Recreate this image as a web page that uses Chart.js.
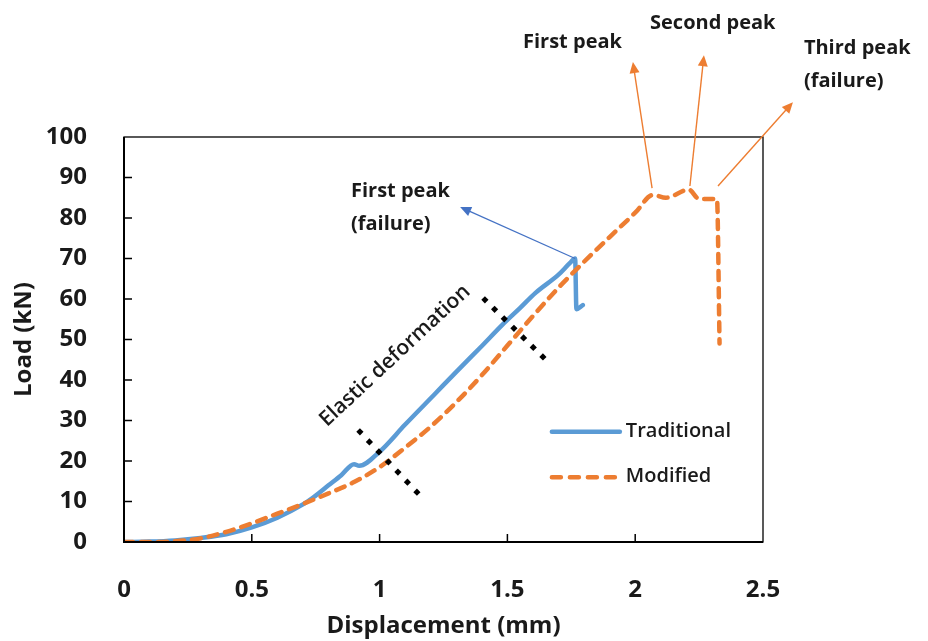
<!DOCTYPE html>
<html>
<head>
<meta charset="utf-8">
<title>Load vs displacement</title>
<script src="https://cdn.jsdelivr.net/npm/chart.js@4.4.1/dist/chart.umd.min.js"></script>
<style>
  body { margin: 0; background: #fff; }
  #wrap { width: 928px; height: 641px; }
</style>
</head>
<body>
<div id="wrap"><canvas id="loadChart" width="928" height="641"></canvas></div>
<script>
// displacement (mm) / load (kN) readings for each specimen
var tradX = [0, 0.1, 0.2, 0.3, 0.4, 0.5, 0.6, 0.7, 0.74, 0.8, 0.85, 0.9, 0.92, 1.0, 1.1, 1.22, 1.3, 1.4, 1.48, 1.55, 1.61, 1.7, 1.745, 1.765, 1.77, 1.795];
var tradY = [0, 0.1, 0.4, 1.0, 1.9, 3.6, 6.0, 9.3, 11.0, 14.0, 16.5, 19.2, 18.8, 22.3, 29.0, 36.8, 42.0, 48.4, 53.6, 57.8, 61.5, 66.0, 68.9, 70.0, 57.5, 58.5];

var modX = [0, 0.1, 0.2, 0.3, 0.4, 0.5, 0.6, 0.7, 0.8, 0.9, 1.0, 1.1, 1.2, 1.3, 1.4, 1.5, 1.6, 1.7, 1.8, 1.9, 2.0, 2.07, 2.12, 2.21, 2.25, 2.32, 2.33];
var modY = [0, 0, 0.2, 0.9, 2.5, 4.6, 7.0, 9.4, 12.0, 14.8, 18.5, 23.3, 28.5, 34.5, 41.2, 48.5, 55.8, 62.8, 69.2, 75.3, 81.3, 85.7, 85.0, 87.0, 84.7, 84.7, 49.0];

var xTicks = [0, 0.5, 1, 1.5, 2, 2.5];
var yTicks = [0, 10, 20, 30, 40, 50, 60, 70, 80, 90, 100];

var seriesNames = ['Traditional', 'Modified'];

var BLUE = '#5b9bd5';
var ORANGE = '#ed7d31';
var INK = '#1a1a1a';
var FONT = '"Open Sans", "Liberation Sans", sans-serif';

function toPoints(xs, ys) {
  return xs.map(function(x, i) { return { x: x, y: ys[i] }; });
}

// peak of the traditional curve, where its failure arrow starts
var tradPeak = tradY.indexOf(Math.max.apply(null, tradY));

function arrow(ctx, x0, y0, x1, y1, color, width) {
  var ang = Math.atan2(y1 - y0, x1 - x0);
  var len = 11, half = 5;
  ctx.save();
  ctx.strokeStyle = color;
  ctx.fillStyle = color;
  ctx.lineWidth = width;
  ctx.beginPath();
  ctx.moveTo(x0, y0);
  ctx.lineTo(x1 - Math.cos(ang) * len * 0.8, y1 - Math.sin(ang) * len * 0.8);
  ctx.stroke();
  ctx.beginPath();
  ctx.moveTo(x1, y1);
  ctx.lineTo(x1 - Math.cos(ang) * len + Math.sin(ang) * half, y1 - Math.sin(ang) * len - Math.cos(ang) * half);
  ctx.lineTo(x1 - Math.cos(ang) * len - Math.sin(ang) * half, y1 - Math.sin(ang) * len + Math.cos(ang) * half);
  ctx.closePath();
  ctx.fill();
  ctx.restore();
}

// row of small diamonds between two points
function dotted(ctx, x0, y0, x1, y1, count) {
  ctx.save();
  ctx.fillStyle = '#000';
  for (var i = 0; i < count; i++) {
    var t = i / (count - 1);
    var cx = x0 + (x1 - x0) * t, cy = y0 + (y1 - y0) * t;
    ctx.beginPath();
    ctx.moveTo(cx, cy - 3.6);
    ctx.lineTo(cx + 3.6, cy);
    ctx.lineTo(cx, cy + 3.6);
    ctx.lineTo(cx - 3.6, cy);
    ctx.closePath();
    ctx.fill();
  }
  ctx.restore();
}

function label(ctx, lines, x, y, font) {
  ctx.save();
  ctx.fillStyle = INK;
  ctx.font = font;
  ctx.textAlign = 'left';
  ctx.textBaseline = 'middle';
  lines.forEach(function(t, i) { ctx.fillText(t, x, y + i * 33); });
  ctx.restore();
}

var notesPlugin = {
  id: 'notes',
  afterDraw: function(chart) {
    var ctx = chart.ctx;
    var a = chart.chartArea;
    var xs = chart.scales.x, ys = chart.scales.y;
    var px = function(v) { return xs.getPixelForValue(v); };
    var py = function(v) { return ys.getPixelForValue(v); };

    // plot frame
    ctx.save();
    ctx.strokeStyle = '#000';
    ctx.lineWidth = 1.3;
    ctx.strokeRect(a.left, a.top, a.right - a.left, a.bottom - a.top);
    ctx.lineWidth = 2;
    ctx.beginPath();
    ctx.moveTo(a.left, a.top);
    ctx.lineTo(a.left, a.bottom);
    ctx.lineTo(a.right, a.bottom);
    ctx.stroke();

    // inward tick marks
    ctx.lineWidth = 1.5;
    ctx.beginPath();
    xTicks.slice(1, -1).forEach(function(v) {
      ctx.moveTo(px(v), a.bottom);
      ctx.lineTo(px(v), a.bottom - 8);
    });
    yTicks.slice(1, -1).forEach(function(v) {
      ctx.moveTo(a.left, py(v));
      ctx.lineTo(a.left + 8, py(v));
    });
    ctx.stroke();
    ctx.restore();

    // elastic region limits
    dotted(ctx, px(0.923), py(27.2), px(1.146), py(12.3), 7);
    dotted(ctx, px(1.412), py(59.8), px(1.639), py(45.7), 7);

    ctx.save();
    ctx.translate(px(1.06), py(46));
    ctx.rotate(-43 * Math.PI / 180);
    ctx.fillStyle = INK;
    ctx.font = '600 21px ' + FONT;
    ctx.textAlign = 'center';
    ctx.textBaseline = 'middle';
    ctx.fillText('Elastic deformation', 0, 0);
    ctx.restore();

    // failure / peak call-outs
    arrow(ctx, px(tradX[tradPeak]), py(tradY[tradPeak]), px(1.315), py(82.7), '#4472c4', 1.2);
    arrow(ctx, px(2.066), py(87.4), px(1.991), py(118.5), ORANGE, 1.4);
    arrow(ctx, px(2.214), py(87.9), px(2.269), py(120.2), ORANGE, 1.4);
    arrow(ctx, px(2.324), py(87.9), px(2.617), py(108.6), ORANGE, 1.4);

    var noteFont = 'bold 20px ' + FONT;
    label(ctx, ['First peak', '(failure)'], px(0.888), py(86.5), noteFont);
    label(ctx, ['First peak'], px(1.561), py(123.5), noteFont);
    label(ctx, ['Second peak'], px(2.058), py(128.1), noteFont);
    label(ctx, ['Third peak', '(failure)'], px(2.66), py(121.8), noteFont);

    // legend
    var lx0 = px(1.674), lx1 = px(1.94);
    ctx.save();
    ctx.lineWidth = 4.5;
    ctx.lineCap = 'round';
    ctx.strokeStyle = BLUE;
    ctx.beginPath();
    ctx.moveTo(lx0, py(27.2));
    ctx.lineTo(lx1, py(27.2));
    ctx.stroke();
    ctx.strokeStyle = ORANGE;
    ctx.setLineDash([9, 9]);
    ctx.beginPath();
    ctx.moveTo(lx0, py(16));
    ctx.lineTo(lx1, py(16));
    ctx.stroke();
    ctx.restore();
    var legFont = '600 20px ' + FONT;
    label(ctx, [seriesNames[0]], lx1 + 6, py(27.4), legFont);
    label(ctx, [seriesNames[1]], lx1 + 6, py(16.2), legFont);
  }
};

var tickFont = { family: FONT, size: 24, weight: 'bold' };

function plainLabel(v) { return String(v); }

new Chart(document.getElementById('loadChart').getContext('2d'), {
  type: 'line',
  data: {
    datasets: [{
      label: seriesNames[0],
      data: toPoints(tradX, tradY),
      borderColor: BLUE,
      borderWidth: 4.5,
      borderJoinStyle: 'round',
      borderCapStyle: 'round',
      pointRadius: 0,
      cubicInterpolationMode: 'monotone',
      order: 1
    }, {
      label: seriesNames[1],
      data: toPoints(modX, modY),
      borderColor: ORANGE,
      borderWidth: 4.5,
      borderDash: [9, 8],
      borderCapStyle: 'round',
      pointRadius: 0,
      cubicInterpolationMode: 'monotone',
      order: 0
    }]
  },
  options: {
    responsive: false,
    animation: false,
    layout: { padding: { left: 0, top: 137, right: 165, bottom: 0 } },
    plugins: {
      legend: { display: false },
      tooltip: { enabled: false }
    },
    scales: {
      x: {
        type: 'linear',
        min: 0,
        max: 2.5,
        afterBuildTicks: function(s) { s.ticks = xTicks.map(function(v) { return { value: v }; }); },
        afterFit: function(s) { s.height = 99; },
        grid: { display: false },
        border: { display: false },
        ticks: { color: INK, font: tickFont, padding: 26, maxRotation: 0, callback: plainLabel },
        title: { display: true, text: 'Displacement (mm)', color: INK, font: tickFont, padding: 0 }
      },
      y: {
        min: 0,
        max: 100,
        afterBuildTicks: function(s) { s.ticks = yTicks.map(function(v) { return { value: v }; }); },
        afterFit: function(s) { s.width = 124; },
        grid: { display: false },
        border: { display: false },
        ticks: { color: INK, font: tickFont, padding: 29, callback: plainLabel },
        title: { display: true, text: 'Load (kN)', color: INK, font: tickFont, padding: { top: 10, bottom: 0 } }
      }
    }
  },
  plugins: [notesPlugin]
});
</script>
</body>
</html>
